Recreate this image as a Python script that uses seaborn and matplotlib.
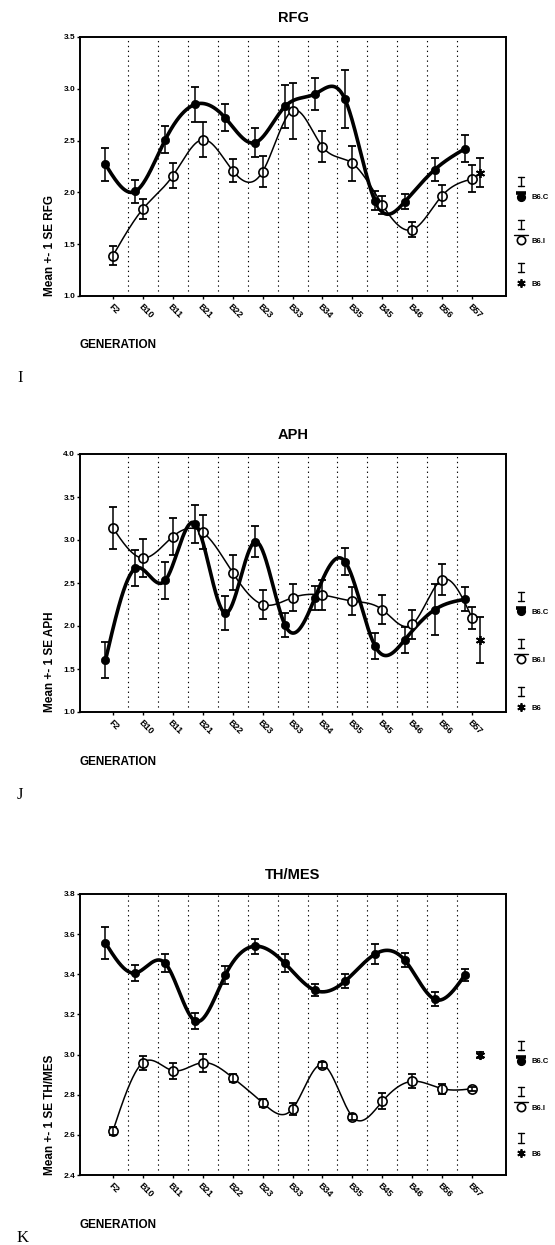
import numpy as np
import pandas as pd
import matplotlib
matplotlib.use("Agg")
import matplotlib.pyplot as plt
import seaborn as sns
from matplotlib.legend_handler import HandlerBase
from matplotlib.lines import Line2D

# ---------------- data ----------------
generations = ['F2', 'B10', 'B11', 'B21', 'B22', 'B23', 'B33', 'B34', 'B35',
               'B45', 'B46', 'B56', 'B57']

rfg_c_mean = [2.27, 2.01, 2.51, 2.85, 2.72, 2.48, 2.83, 2.95, 2.90, 1.92, 1.91, 2.22, 2.42]
rfg_c_se = [0.16, 0.11, 0.13, 0.17, 0.13, 0.14, 0.21, 0.15, 0.28, 0.09, 0.07, 0.11, 0.13]
rfg_i_mean = [1.39, 1.84, 2.16, 2.51, 2.21, 2.20, 2.79, 2.44, 2.28, 1.88, 1.64, 1.97, 2.13]
rfg_i_se = [0.09, 0.10, 0.12, 0.17, 0.11, 0.15, 0.27, 0.15, 0.17, 0.09, 0.075, 0.10, 0.13]
rfg_b6_mean = [2.19]
rfg_b6_se = [0.14]

aph_c_mean = [1.60, 2.67, 2.53, 3.19, 2.15, 2.98, 2.01, 2.33, 2.75, 1.77, 1.84, 2.19, 2.31]
aph_c_se = [0.21, 0.21, 0.22, 0.22, 0.20, 0.18, 0.14, 0.14, 0.16, 0.15, 0.15, 0.30, 0.14]
aph_i_mean = [3.14, 2.79, 3.04, 3.09, 2.62, 2.25, 2.33, 2.36, 2.29, 2.19, 2.02, 2.54, 2.09]
aph_i_se = [0.24, 0.22, 0.22, 0.20, 0.20, 0.17, 0.16, 0.17, 0.16, 0.17, 0.17, 0.18, 0.13]
aph_b6_mean = [1.84]
aph_b6_se = [0.27]

thm_c_mean = [3.556, 3.406, 3.454, 3.167, 3.395, 3.54, 3.454, 3.32, 3.365, 3.50, 3.47, 3.275, 3.395]
thm_c_se = [0.08, 0.04, 0.045, 0.04, 0.045, 0.038, 0.045, 0.03, 0.035, 0.05, 0.035, 0.035, 0.03]
thm_i_mean = [2.62, 2.96, 2.92, 2.96, 2.885, 2.76, 2.73, 2.95, 2.69, 2.767, 2.867, 2.83, 2.83]
thm_i_se = [0.02, 0.035, 0.04, 0.045, 0.02, 0.02, 0.03, 0.015, 0.015, 0.04, 0.035, 0.025, 0.01]
thm_b6_mean = [3.00]
thm_b6_se = [0.015]

series_labels = ['B6.C', 'B6.I', 'B6']
panel_titles = ['RFG', 'APH', 'TH/MES']
panel_letters = ['I', 'J', 'K']
ylims = [(1.0, 3.5), (1.0, 4.0), (2.4, 3.8)]
yticks = [[1.0, 1.5, 2.0, 2.5, 3.0, 3.5],
          [1.0, 1.5, 2.0, 2.5, 3.0, 3.5, 4.0],
          [2.4, 2.6, 2.8, 3.0, 3.2, 3.4, 3.6, 3.8]]

# ---------------- style ----------------
sns.set_style('ticks')
plt.rcParams['font.family'] = ['Liberation Sans', 'DejaVu Sans']
plt.rcParams['font.weight'] = 'bold'
for key in ('text.color', 'axes.labelcolor', 'xtick.color', 'ytick.color',
            'axes.edgecolor'):
    plt.rcParams[key] = 'black'

W, H = 555, 1245
fig = plt.figure(figsize=(W / 100, H / 100), dpi=100)

# axes boxes in pixels: left, top, right, bottom
boxes = [(80, 37, 506, 296), (80, 454, 506, 712), (80, 894, 506, 1175)]
gen_y = [345, 762, 1225]
letter_y = [378, 795, 1238]
leg_spacing = [4.6, 5.2, 5.0]
leg_y0 = [0.02, -0.01, 0.05]


def natural_spline(x, y, n=600):
    x = np.asarray(x, float)
    y = np.asarray(y, float)
    m = len(x)
    h = np.diff(x)
    A = np.zeros((m, m))
    b = np.zeros(m)
    A[0, 0] = 1
    A[-1, -1] = 1
    for i in range(1, m - 1):
        A[i, i - 1] = h[i - 1]
        A[i, i] = 2 * (h[i - 1] + h[i])
        A[i, i + 1] = h[i]
        b[i] = 3 * ((y[i + 1] - y[i]) / h[i] - (y[i] - y[i - 1]) / h[i - 1])
    c = np.linalg.solve(A, b)
    bb = (y[1:] - y[:-1]) / h - h * (2 * c[:-1] + c[1:]) / 3
    d = (c[1:] - c[:-1]) / (3 * h)
    xs = np.linspace(x[0], x[-1], n)
    idx = np.clip(np.searchsorted(x, xs) - 1, 0, m - 2)
    dx = xs - x[idx]
    ys = y[idx] + bb[idx] * dx + c[idx] * dx ** 2 + d[idx] * dx ** 3
    return xs, ys


class GlyphHandler(HandlerBase):
    def __init__(self, kind):
        super().__init__()
        self.kind = kind

    def create_artists(self, legend, orig_handle, xdescent, ydescent,
                       width, height, fontsize, trans):
        cx = width / 2 - xdescent
        ym = height / 2 - ydescent
        arts = []
        # error-bar "I" glyph above
        ic = ym + 2.0 * fontsize
        hh = 0.6 * fontsize
        cw = 0.35 * fontsize
        arts.append(Line2D([cx, cx], [ic - hh, ic + hh], color='black', lw=1.0))
        arts.append(Line2D([cx - cw, cx + cw], [ic + hh, ic + hh], color='black', lw=1.0))
        arts.append(Line2D([cx - cw, cx + cw], [ic - hh, ic - hh], color='black', lw=1.0))
        if self.kind == 'C':
            arts.append(Line2D([cx - 0.7 * fontsize, cx + 0.7 * fontsize],
                               [ym + 0.5 * fontsize] * 2, color='black', lw=2.6,
                               solid_capstyle='butt'))
            arts.append(Line2D([cx], [ym], marker='o', ms=5.6, mfc='black',
                               mec='black', ls='none'))
        elif self.kind == 'I':
            arts.append(Line2D([cx - 0.95 * fontsize, cx + 0.95 * fontsize],
                               [ym + 0.7 * fontsize] * 2, color='black', lw=1.0))
            arts.append(Line2D([cx], [ym], marker='o', ms=6.0, mfc='white',
                               mec='black', mew=1.2, ls='none'))
        else:
            arts.append(Line2D([cx], [ym], marker=(6, 2, 0), ms=6.0, mec='black',
                               mew=1.3, ls='none'))
        for a in arts:
            a.set_transform(trans)
        return arts


panels = [
    (rfg_c_mean, rfg_c_se, rfg_i_mean, rfg_i_se, rfg_b6_mean, rfg_b6_se),
    (aph_c_mean, aph_c_se, aph_i_mean, aph_i_se, aph_b6_mean, aph_b6_se),
    (thm_c_mean, thm_c_se, thm_i_mean, thm_i_se, thm_b6_mean, thm_b6_se),
]

pos = np.arange(len(generations))
off = 0.25

for k, (cm, cs, im, isd, bm, bs) in enumerate(panels):
    l, t, r, b = boxes[k]
    ax = fig.add_axes([l / W, 1 - b / H, (r - l) / W, (b - t) / H])

    df_c = pd.DataFrame({'x': pos - off, 'mean': cm, 'se': cs})
    df_i = pd.DataFrame({'x': pos, 'mean': im, 'se': isd})
    df_b = pd.DataFrame({'x': [pos[-1] + off], 'mean': bm, 'se': bs})

    # category separators
    for xv in pos[:-1] + 0.5:
        ax.axvline(xv, color='black', lw=0.8, ls=(0, (1.2, 3.2)), zorder=0)

    # smooth curves
    xs, ys = natural_spline(df_c['x'], df_c['mean'])
    sns.lineplot(x=xs, y=ys, ax=ax, color='black', lw=2.6, sort=False,
                 estimator=None, zorder=2)
    xs, ys = natural_spline(df_i['x'], df_i['mean'])
    sns.lineplot(x=xs, y=ys, ax=ax, color='black', lw=1.1, sort=False,
                 estimator=None, zorder=2)

    # markers
    sns.scatterplot(data=df_c, x='x', y='mean', ax=ax, color='black', s=36,
                    edgecolor='black', linewidth=0.5, zorder=3)
    sns.scatterplot(data=df_i, x='x', y='mean', ax=ax, facecolor='white', s=44,
                    edgecolor='black', linewidth=1.2, zorder=3)
    ax.plot(df_b['x'], df_b['mean'], marker=(6, 2, 0), ms=6.5, mec='black',
            mew=1.3, ls='none', zorder=4)

    # error bars
    for d in (df_c, df_i, df_b):
        ax.errorbar(d['x'], d['mean'], yerr=d['se'], fmt='none', ecolor='black',
                    elinewidth=1.1, capsize=3.0, capthick=1.3, zorder=5)

    ax.set_xlim(-1.1, 13.13)
    ax.set_ylim(*ylims[k])
    ax.set_yticks(yticks[k])
    ax.set_yticklabels([f'{v:.1f}' for v in yticks[k]], fontsize=6, fontweight='bold')
    ax.set_xticks(pos)
    ax.set_xticklabels(generations, fontsize=6.5, fontweight='bold', rotation=-45,
                       ha='left', va='top', rotation_mode='anchor')
    ax.tick_params(axis='x', length=2.5, width=1.0, pad=2, direction='out')
    ax.tick_params(axis='y', length=2.0, width=1.0, pad=1.5, direction='out')
    for sp in ax.spines.values():
        sp.set_visible(True)
        sp.set_linewidth(1.4)
        sp.set_color('black')
    ax.set_xlabel('')
    ax.set_ylabel(f'Mean +- 1 SE {panel_titles[k]}', fontsize=8.5,
                  fontweight='bold', loc='bottom', labelpad=5)
    ax.set_title(panel_titles[k], fontsize=10.5, fontweight='bold', pad=11)

    # legend
    hC = Line2D([], [], color='black')
    hI = Line2D([], [], color='black')
    hS = Line2D([], [], color='black')
    ax.legend([hC, hI, hS], series_labels,
              handler_map={hC: GlyphHandler('C'), hI: GlyphHandler('I'),
                           hS: GlyphHandler('S')},
              loc='lower left', bbox_to_anchor=(1.012, leg_y0[k]), frameon=False,
              prop={'size': 5.5, 'weight': 'bold'}, handlelength=1.8,
              handleheight=1.0, handletextpad=0.5, labelspacing=leg_spacing[k],
              borderaxespad=0.0, borderpad=0.4)

    fig.text(79 / W, 1 - gen_y[k] / H, 'GENERATION', fontsize=8.5, fontweight='bold',
             ha='left', va='center')
    fig.text(17 / W, 1 - letter_y[k] / H, panel_letters[k], fontsize=12,
             fontweight='normal', family='Liberation Serif', ha='left', va='center')

fig.savefig('out.png', dpi=100, facecolor='white')
